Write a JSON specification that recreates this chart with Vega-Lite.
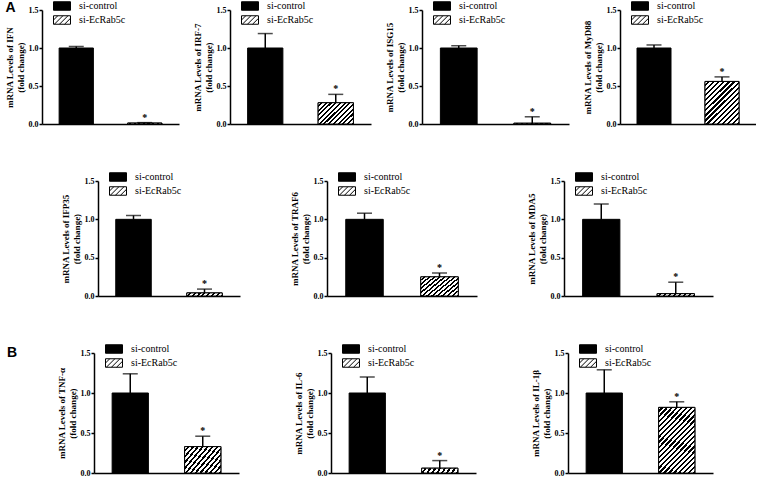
{
"$schema":"https://vega.github.io/schema/vega-lite/v6.json",
"padding":{"left":5,"top":1,"right":0,"bottom":0},
"datasets":{"d":[
{"gene":"IFN","group":"si-control","mean":1.0,"upper":1.02,"sig":""},
{"gene":"IFN","group":"si-EcRab5c","mean":0.012,"upper":0.018,"sig":"*"},
{"gene":"IRF-7","group":"si-control","mean":1.0,"upper":1.19,"sig":""},
{"gene":"IRF-7","group":"si-EcRab5c","mean":0.28,"upper":0.39,"sig":"*"},
{"gene":"ISG15","group":"si-control","mean":1.0,"upper":1.03,"sig":""},
{"gene":"ISG15","group":"si-EcRab5c","mean":0.01,"upper":0.095,"sig":"*"},
{"gene":"MyD88","group":"si-control","mean":1.0,"upper":1.04,"sig":""},
{"gene":"MyD88","group":"si-EcRab5c","mean":0.56,"upper":0.62,"sig":"*"},
{"gene":"IFP35","group":"si-control","mean":1.0,"upper":1.05,"sig":""},
{"gene":"IFP35","group":"si-EcRab5c","mean":0.04,"upper":0.09,"sig":"*"},
{"gene":"TRAF6","group":"si-control","mean":1.0,"upper":1.08,"sig":""},
{"gene":"TRAF6","group":"si-EcRab5c","mean":0.25,"upper":0.30,"sig":"*"},
{"gene":"MDA5","group":"si-control","mean":1.0,"upper":1.20,"sig":""},
{"gene":"MDA5","group":"si-EcRab5c","mean":0.03,"upper":0.18,"sig":"*"},
{"gene":"TNF-α","group":"si-control","mean":1.0,"upper":1.24,"sig":""},
{"gene":"TNF-α","group":"si-EcRab5c","mean":0.33,"upper":0.46,"sig":"*"},
{"gene":"IL-6","group":"si-control","mean":1.0,"upper":1.2,"sig":""},
{"gene":"IL-6","group":"si-EcRab5c","mean":0.06,"upper":0.155,"sig":"*"},
{"gene":"IL-1β","group":"si-control","mean":1.0,"upper":1.29,"sig":""},
{"gene":"IL-1β","group":"si-EcRab5c","mean":0.82,"upper":0.89,"sig":"*"}
]},
"data":{"name":"d"},
"spacing":44,
"resolve":{"scale":{"fill":"independent"},"legend":{"fill":"independent"}},
"vconcat":[
{"title":{"text":"A","anchor":"start","font":"Liberation Sans","fontSize":14,"fontWeight":"bold","color":"#000","offset":-14},
"spacing":14,
"resolve":{"scale":{"fill":"independent"},"legend":{"fill":"independent"}},
"hconcat":[
{"width":137,"height":114,"transform":[{"filter":"datum.gene==='IFN'"}],
"encoding":{"x":{"field":"group","type":"nominal","sort":["si-control","si-EcRab5c"],"scale":{"paddingInner":0.5,"paddingOuter":0.25},"axis":{"title":null,"labels":false,"ticks":false}},
"y":{"field":"mean","type":"quantitative","scale":{"domain":[0,1.5],"nice":false},"axis":{"values":[0,0.5,1,1.5],"format":".1f","title":["mRNA Levels of IFN","(fold change)"]}}},
"layer":[
{"mark":{"type":"bar","stroke":"#000","strokeWidth":1},"encoding":{"fill":{"field":"group","type":"nominal","scale":{"domain":["si-control","si-EcRab5c"],"range":["#000","#fff"]},"legend":{"title":null,"symbolType":"M-2,-1H2V1H-2Z","encode":{"symbols":{"update":{"shape":[{"test":"datum.value==='si-EcRab5c'","value":"M-2,-1H2V1H-2Z M-2,0L-1,-1 M-1.8,1L0.2,-1 M-0.6,1L1.4,-1 M0.6,1L2,-0.4"},{"value":"M-2,-1H2V1H-2Z"}]}}}}}}},
{"transform":[{"filter":"datum.group==='si-EcRab5c'"}],"mark":{"type":"bar","stroke":"#000","strokeWidth":1,"fill":{"gradient":"linear","x1":0,"y1":0,"x2":1.076,"y2":0.09,"stops":[{"offset":0,"color":"#fff"},{"offset":0.069,"color":"#fff"},{"offset":0.069,"color":"#000"},{"offset":0.125,"color":"#000"},{"offset":0.125,"color":"#fff"},{"offset":0.194,"color":"#fff"},{"offset":0.194,"color":"#000"},{"offset":0.25,"color":"#000"},{"offset":0.25,"color":"#fff"},{"offset":0.319,"color":"#fff"},{"offset":0.319,"color":"#000"},{"offset":0.375,"color":"#000"},{"offset":0.375,"color":"#fff"},{"offset":0.444,"color":"#fff"},{"offset":0.444,"color":"#000"},{"offset":0.5,"color":"#000"},{"offset":0.5,"color":"#fff"},{"offset":0.569,"color":"#fff"},{"offset":0.569,"color":"#000"},{"offset":0.625,"color":"#000"},{"offset":0.625,"color":"#fff"},{"offset":0.694,"color":"#fff"},{"offset":0.694,"color":"#000"},{"offset":0.75,"color":"#000"},{"offset":0.75,"color":"#fff"},{"offset":0.819,"color":"#fff"},{"offset":0.819,"color":"#000"},{"offset":0.875,"color":"#000"},{"offset":0.875,"color":"#fff"},{"offset":0.944,"color":"#fff"},{"offset":0.944,"color":"#000"},{"offset":1,"color":"#000"}]}}},
{"mark":{"type":"rule","color":"#000","strokeWidth":1.5},"encoding":{"y2":{"field":"upper"}}},
{"mark":{"type":"tick","color":"#000","size":15,"thickness":1.5},"encoding":{"y":{"field":"upper","type":"quantitative"}}},
{"mark":{"type":"text","font":"Liberation Serif","fontSize":10,"fontWeight":"bold","baseline":"alphabetic","dy":-2,"color":"#000"},"encoding":{"y":{"field":"upper","type":"quantitative"},"text":{"field":"sig"}}}
]},
{"width":141,"height":114,"transform":[{"filter":"datum.gene==='IRF-7'"}],
"encoding":{"x":{"field":"group","type":"nominal","sort":["si-control","si-EcRab5c"],"scale":{"paddingInner":0.5,"paddingOuter":0.25},"axis":{"title":null,"labels":false,"ticks":false}},
"y":{"field":"mean","type":"quantitative","scale":{"domain":[0,1.5],"nice":false},"axis":{"values":[0,0.5,1,1.5],"format":".1f","title":["mRNA Levels of IRF-7","(fold change)"]}}},
"layer":[
{"mark":{"type":"bar","stroke":"#000","strokeWidth":1},"encoding":{"fill":{"field":"group","type":"nominal","scale":{"domain":["si-control","si-EcRab5c"],"range":["#000","#fff"]},"legend":{"title":null,"symbolType":"M-2,-1H2V1H-2Z","encode":{"symbols":{"update":{"shape":[{"test":"datum.value==='si-EcRab5c'","value":"M-2,-1H2V1H-2Z M-2,0L-1,-1 M-1.8,1L0.2,-1 M-0.6,1L1.4,-1 M0.6,1L2,-0.4"},{"value":"M-2,-1H2V1H-2Z"}]}}}}}}},
{"transform":[{"filter":"datum.group==='si-EcRab5c'"}],"mark":{"type":"bar","stroke":"#000","strokeWidth":1,"fill":{"gradient":"linear","x1":0,"y1":0,"x2":1.173,"y2":0.717,"stops":[{"offset":0,"color":"#fff"},{"offset":0.0458,"color":"#fff"},{"offset":0.0458,"color":"#000"},{"offset":0.0833,"color":"#000"},{"offset":0.0833,"color":"#fff"},{"offset":0.1292,"color":"#fff"},{"offset":0.1292,"color":"#000"},{"offset":0.1667,"color":"#000"},{"offset":0.1667,"color":"#fff"},{"offset":0.2125,"color":"#fff"},{"offset":0.2125,"color":"#000"},{"offset":0.25,"color":"#000"},{"offset":0.25,"color":"#fff"},{"offset":0.2958,"color":"#fff"},{"offset":0.2958,"color":"#000"},{"offset":0.3333,"color":"#000"},{"offset":0.3333,"color":"#fff"},{"offset":0.3792,"color":"#fff"},{"offset":0.3792,"color":"#000"},{"offset":0.4167,"color":"#000"},{"offset":0.4167,"color":"#fff"},{"offset":0.4625,"color":"#fff"},{"offset":0.4625,"color":"#000"},{"offset":0.5,"color":"#000"},{"offset":0.5,"color":"#fff"},{"offset":0.5458,"color":"#fff"},{"offset":0.5458,"color":"#000"},{"offset":0.5833,"color":"#000"},{"offset":0.5833,"color":"#fff"},{"offset":0.6292,"color":"#fff"},{"offset":0.6292,"color":"#000"},{"offset":0.6667,"color":"#000"},{"offset":0.6667,"color":"#fff"},{"offset":0.7125,"color":"#fff"},{"offset":0.7125,"color":"#000"},{"offset":0.75,"color":"#000"},{"offset":0.75,"color":"#fff"},{"offset":0.7958,"color":"#fff"},{"offset":0.7958,"color":"#000"},{"offset":0.8333,"color":"#000"},{"offset":0.8333,"color":"#fff"},{"offset":0.8792,"color":"#fff"},{"offset":0.8792,"color":"#000"},{"offset":0.9167,"color":"#000"},{"offset":0.9167,"color":"#fff"},{"offset":0.9625,"color":"#fff"},{"offset":0.9625,"color":"#000"},{"offset":1,"color":"#000"}]}}},
{"mark":{"type":"rule","color":"#000","strokeWidth":1.5},"encoding":{"y2":{"field":"upper"}}},
{"mark":{"type":"tick","color":"#000","size":15,"thickness":1.5},"encoding":{"y":{"field":"upper","type":"quantitative"}}},
{"mark":{"type":"text","font":"Liberation Serif","fontSize":10,"fontWeight":"bold","baseline":"alphabetic","dy":-2,"color":"#000"},"encoding":{"y":{"field":"upper","type":"quantitative"},"text":{"field":"sig"}}}
]},
{"width":147,"height":114,"transform":[{"filter":"datum.gene==='ISG15'"}],
"encoding":{"x":{"field":"group","type":"nominal","sort":["si-control","si-EcRab5c"],"scale":{"paddingInner":0.5,"paddingOuter":0.25},"axis":{"title":null,"labels":false,"ticks":false}},
"y":{"field":"mean","type":"quantitative","scale":{"domain":[0,1.5],"nice":false},"axis":{"values":[0,0.5,1,1.5],"format":".1f","title":["mRNA Levels of ISG15","(fold change)"]}}},
"layer":[
{"mark":{"type":"bar","stroke":"#000","strokeWidth":1},"encoding":{"fill":{"field":"group","type":"nominal","scale":{"domain":["si-control","si-EcRab5c"],"range":["#000","#fff"]},"legend":{"title":null,"symbolType":"M-2,-1H2V1H-2Z","encode":{"symbols":{"update":{"shape":[{"test":"datum.value==='si-EcRab5c'","value":"M-2,-1H2V1H-2Z M-2,0L-1,-1 M-1.8,1L0.2,-1 M-0.6,1L1.4,-1 M0.6,1L2,-0.4"},{"value":"M-2,-1H2V1H-2Z"}]}}}}}}},
{"transform":[{"filter":"datum.group==='si-EcRab5c'"}],"mark":{"type":"bar","stroke":"#000","strokeWidth":1,"fill":{"gradient":"linear","x1":0,"y1":0,"x2":1.076,"y2":0.09,"stops":[{"offset":0,"color":"#fff"},{"offset":0.069,"color":"#fff"},{"offset":0.069,"color":"#000"},{"offset":0.125,"color":"#000"},{"offset":0.125,"color":"#fff"},{"offset":0.194,"color":"#fff"},{"offset":0.194,"color":"#000"},{"offset":0.25,"color":"#000"},{"offset":0.25,"color":"#fff"},{"offset":0.319,"color":"#fff"},{"offset":0.319,"color":"#000"},{"offset":0.375,"color":"#000"},{"offset":0.375,"color":"#fff"},{"offset":0.444,"color":"#fff"},{"offset":0.444,"color":"#000"},{"offset":0.5,"color":"#000"},{"offset":0.5,"color":"#fff"},{"offset":0.569,"color":"#fff"},{"offset":0.569,"color":"#000"},{"offset":0.625,"color":"#000"},{"offset":0.625,"color":"#fff"},{"offset":0.694,"color":"#fff"},{"offset":0.694,"color":"#000"},{"offset":0.75,"color":"#000"},{"offset":0.75,"color":"#fff"},{"offset":0.819,"color":"#fff"},{"offset":0.819,"color":"#000"},{"offset":0.875,"color":"#000"},{"offset":0.875,"color":"#fff"},{"offset":0.944,"color":"#fff"},{"offset":0.944,"color":"#000"},{"offset":1,"color":"#000"}]}}},
{"mark":{"type":"rule","color":"#000","strokeWidth":1.5},"encoding":{"y2":{"field":"upper"}}},
{"mark":{"type":"tick","color":"#000","size":15,"thickness":1.5},"encoding":{"y":{"field":"upper","type":"quantitative"}}},
{"mark":{"type":"text","font":"Liberation Serif","fontSize":10,"fontWeight":"bold","baseline":"alphabetic","dy":-2,"color":"#000"},"encoding":{"y":{"field":"upper","type":"quantitative"},"text":{"field":"sig"}}}
]},
{"width":136,"height":114,"transform":[{"filter":"datum.gene==='MyD88'"}],
"encoding":{"x":{"field":"group","type":"nominal","sort":["si-control","si-EcRab5c"],"scale":{"paddingInner":0.5,"paddingOuter":0.25},"axis":{"title":null,"labels":false,"ticks":false}},
"y":{"field":"mean","type":"quantitative","scale":{"domain":[0,1.5],"nice":false},"axis":{"values":[0,0.5,1,1.5],"format":".1f","title":["mRNA Levels of MyD88","(fold change)"]}}},
"layer":[
{"mark":{"type":"bar","stroke":"#000","strokeWidth":1},"encoding":{"fill":{"field":"group","type":"nominal","scale":{"domain":["si-control","si-EcRab5c"],"range":["#000","#fff"]},"legend":{"title":null,"symbolType":"M-2,-1H2V1H-2Z","encode":{"symbols":{"update":{"shape":[{"test":"datum.value==='si-EcRab5c'","value":"M-2,-1H2V1H-2Z M-2,0L-1,-1 M-1.8,1L0.2,-1 M-0.6,1L1.4,-1 M0.6,1L2,-0.4"},{"value":"M-2,-1H2V1H-2Z"}]}}}}}}},
{"transform":[{"filter":"datum.group==='si-EcRab5c'"}],"mark":{"type":"bar","stroke":"#000","strokeWidth":1,"fill":{"gradient":"linear","x1":0,"y1":0,"x2":0.871,"y2":1.102,"stops":[{"offset":0,"color":"#fff"},{"offset":0.0367,"color":"#fff"},{"offset":0.0367,"color":"#000"},{"offset":0.0667,"color":"#000"},{"offset":0.0667,"color":"#fff"},{"offset":0.1033,"color":"#fff"},{"offset":0.1033,"color":"#000"},{"offset":0.1333,"color":"#000"},{"offset":0.1333,"color":"#fff"},{"offset":0.17,"color":"#fff"},{"offset":0.17,"color":"#000"},{"offset":0.2,"color":"#000"},{"offset":0.2,"color":"#fff"},{"offset":0.2367,"color":"#fff"},{"offset":0.2367,"color":"#000"},{"offset":0.2667,"color":"#000"},{"offset":0.2667,"color":"#fff"},{"offset":0.3033,"color":"#fff"},{"offset":0.3033,"color":"#000"},{"offset":0.3333,"color":"#000"},{"offset":0.3333,"color":"#fff"},{"offset":0.37,"color":"#fff"},{"offset":0.37,"color":"#000"},{"offset":0.4,"color":"#000"},{"offset":0.4,"color":"#fff"},{"offset":0.4367,"color":"#fff"},{"offset":0.4367,"color":"#000"},{"offset":0.4667,"color":"#000"},{"offset":0.4667,"color":"#fff"},{"offset":0.5033,"color":"#fff"},{"offset":0.5033,"color":"#000"},{"offset":0.5333,"color":"#000"},{"offset":0.5333,"color":"#fff"},{"offset":0.57,"color":"#fff"},{"offset":0.57,"color":"#000"},{"offset":0.6,"color":"#000"},{"offset":0.6,"color":"#fff"},{"offset":0.6367,"color":"#fff"},{"offset":0.6367,"color":"#000"},{"offset":0.6667,"color":"#000"},{"offset":0.6667,"color":"#fff"},{"offset":0.7033,"color":"#fff"},{"offset":0.7033,"color":"#000"},{"offset":0.7333,"color":"#000"},{"offset":0.7333,"color":"#fff"},{"offset":0.77,"color":"#fff"},{"offset":0.77,"color":"#000"},{"offset":0.8,"color":"#000"},{"offset":0.8,"color":"#fff"},{"offset":0.8367,"color":"#fff"},{"offset":0.8367,"color":"#000"},{"offset":0.8667,"color":"#000"},{"offset":0.8667,"color":"#fff"},{"offset":0.9033,"color":"#fff"},{"offset":0.9033,"color":"#000"},{"offset":0.9333,"color":"#000"},{"offset":0.9333,"color":"#fff"},{"offset":0.97,"color":"#fff"},{"offset":0.97,"color":"#000"},{"offset":1,"color":"#000"}]}}},
{"mark":{"type":"rule","color":"#000","strokeWidth":1.5},"encoding":{"y2":{"field":"upper"}}},
{"mark":{"type":"tick","color":"#000","size":15,"thickness":1.5},"encoding":{"y":{"field":"upper","type":"quantitative"}}},
{"mark":{"type":"text","font":"Liberation Serif","fontSize":10,"fontWeight":"bold","baseline":"alphabetic","dy":-2,"color":"#000"},"encoding":{"y":{"field":"upper","type":"quantitative"},"text":{"field":"sig"}}}
]}
]},
{"spacing":0,
"resolve":{"scale":{"fill":"independent"},"legend":{"fill":"independent"}},
"hconcat":[
{"width":19,"height":1,"transform":[{"filter":"false"}],"mark":"point"},
{"spacing":50,
"resolve":{"scale":{"fill":"independent"},"legend":{"fill":"independent"}},
"hconcat":[
{"width":142,"height":115,"transform":[{"filter":"datum.gene==='IFP35'"}],
"encoding":{"x":{"field":"group","type":"nominal","sort":["si-control","si-EcRab5c"],"scale":{"paddingInner":0.5,"paddingOuter":0.25},"axis":{"title":null,"labels":false,"ticks":false}},
"y":{"field":"mean","type":"quantitative","scale":{"domain":[0,1.5],"nice":false},"axis":{"values":[0,0.5,1,1.5],"format":".1f","title":["mRNA Levels of IFP35","(fold change)"]}}},
"layer":[
{"mark":{"type":"bar","stroke":"#000","strokeWidth":1},"encoding":{"fill":{"field":"group","type":"nominal","scale":{"domain":["si-control","si-EcRab5c"],"range":["#000","#fff"]},"legend":{"title":null,"symbolType":"M-2,-1H2V1H-2Z","encode":{"symbols":{"update":{"shape":[{"test":"datum.value==='si-EcRab5c'","value":"M-2,-1H2V1H-2Z M-2,0L-1,-1 M-1.8,1L0.2,-1 M-0.6,1L1.4,-1 M0.6,1L2,-0.4"},{"value":"M-2,-1H2V1H-2Z"}]}}}}}}},
{"transform":[{"filter":"datum.group==='si-EcRab5c'"}],"mark":{"type":"bar","stroke":"#000","strokeWidth":1,"fill":{"gradient":"linear","x1":0,"y1":0,"x2":1.076,"y2":0.09,"stops":[{"offset":0,"color":"#fff"},{"offset":0.069,"color":"#fff"},{"offset":0.069,"color":"#000"},{"offset":0.125,"color":"#000"},{"offset":0.125,"color":"#fff"},{"offset":0.194,"color":"#fff"},{"offset":0.194,"color":"#000"},{"offset":0.25,"color":"#000"},{"offset":0.25,"color":"#fff"},{"offset":0.319,"color":"#fff"},{"offset":0.319,"color":"#000"},{"offset":0.375,"color":"#000"},{"offset":0.375,"color":"#fff"},{"offset":0.444,"color":"#fff"},{"offset":0.444,"color":"#000"},{"offset":0.5,"color":"#000"},{"offset":0.5,"color":"#fff"},{"offset":0.569,"color":"#fff"},{"offset":0.569,"color":"#000"},{"offset":0.625,"color":"#000"},{"offset":0.625,"color":"#fff"},{"offset":0.694,"color":"#fff"},{"offset":0.694,"color":"#000"},{"offset":0.75,"color":"#000"},{"offset":0.75,"color":"#fff"},{"offset":0.819,"color":"#fff"},{"offset":0.819,"color":"#000"},{"offset":0.875,"color":"#000"},{"offset":0.875,"color":"#fff"},{"offset":0.944,"color":"#fff"},{"offset":0.944,"color":"#000"},{"offset":1,"color":"#000"}]}}},
{"mark":{"type":"rule","color":"#000","strokeWidth":1.5},"encoding":{"y2":{"field":"upper"}}},
{"mark":{"type":"tick","color":"#000","size":15,"thickness":1.5},"encoding":{"y":{"field":"upper","type":"quantitative"}}},
{"mark":{"type":"text","font":"Liberation Serif","fontSize":10,"fontWeight":"bold","baseline":"alphabetic","dy":-2,"color":"#000"},"encoding":{"y":{"field":"upper","type":"quantitative"},"text":{"field":"sig"}}}
]},
{"width":150,"height":115,"transform":[{"filter":"datum.gene==='TRAF6'"}],
"encoding":{"x":{"field":"group","type":"nominal","sort":["si-control","si-EcRab5c"],"scale":{"paddingInner":0.5,"paddingOuter":0.25},"axis":{"title":null,"labels":false,"ticks":false}},
"y":{"field":"mean","type":"quantitative","scale":{"domain":[0,1.5],"nice":false},"axis":{"values":[0,0.5,1,1.5],"format":".1f","title":["mRNA Levels of TRAF6","(fold change)"]}}},
"layer":[
{"mark":{"type":"bar","stroke":"#000","strokeWidth":1},"encoding":{"fill":{"field":"group","type":"nominal","scale":{"domain":["si-control","si-EcRab5c"],"range":["#000","#fff"]},"legend":{"title":null,"symbolType":"M-2,-1H2V1H-2Z","encode":{"symbols":{"update":{"shape":[{"test":"datum.value==='si-EcRab5c'","value":"M-2,-1H2V1H-2Z M-2,0L-1,-1 M-1.8,1L0.2,-1 M-0.6,1L1.4,-1 M0.6,1L2,-0.4"},{"value":"M-2,-1H2V1H-2Z"}]}}}}}}},
{"transform":[{"filter":"datum.group==='si-EcRab5c'"}],"mark":{"type":"bar","stroke":"#000","strokeWidth":1,"fill":{"gradient":"linear","x1":0,"y1":0,"x2":1.173,"y2":0.717,"stops":[{"offset":0,"color":"#fff"},{"offset":0.0458,"color":"#fff"},{"offset":0.0458,"color":"#000"},{"offset":0.0833,"color":"#000"},{"offset":0.0833,"color":"#fff"},{"offset":0.1292,"color":"#fff"},{"offset":0.1292,"color":"#000"},{"offset":0.1667,"color":"#000"},{"offset":0.1667,"color":"#fff"},{"offset":0.2125,"color":"#fff"},{"offset":0.2125,"color":"#000"},{"offset":0.25,"color":"#000"},{"offset":0.25,"color":"#fff"},{"offset":0.2958,"color":"#fff"},{"offset":0.2958,"color":"#000"},{"offset":0.3333,"color":"#000"},{"offset":0.3333,"color":"#fff"},{"offset":0.3792,"color":"#fff"},{"offset":0.3792,"color":"#000"},{"offset":0.4167,"color":"#000"},{"offset":0.4167,"color":"#fff"},{"offset":0.4625,"color":"#fff"},{"offset":0.4625,"color":"#000"},{"offset":0.5,"color":"#000"},{"offset":0.5,"color":"#fff"},{"offset":0.5458,"color":"#fff"},{"offset":0.5458,"color":"#000"},{"offset":0.5833,"color":"#000"},{"offset":0.5833,"color":"#fff"},{"offset":0.6292,"color":"#fff"},{"offset":0.6292,"color":"#000"},{"offset":0.6667,"color":"#000"},{"offset":0.6667,"color":"#fff"},{"offset":0.7125,"color":"#fff"},{"offset":0.7125,"color":"#000"},{"offset":0.75,"color":"#000"},{"offset":0.75,"color":"#fff"},{"offset":0.7958,"color":"#fff"},{"offset":0.7958,"color":"#000"},{"offset":0.8333,"color":"#000"},{"offset":0.8333,"color":"#fff"},{"offset":0.8792,"color":"#fff"},{"offset":0.8792,"color":"#000"},{"offset":0.9167,"color":"#000"},{"offset":0.9167,"color":"#fff"},{"offset":0.9625,"color":"#fff"},{"offset":0.9625,"color":"#000"},{"offset":1,"color":"#000"}]}}},
{"mark":{"type":"rule","color":"#000","strokeWidth":1.5},"encoding":{"y2":{"field":"upper"}}},
{"mark":{"type":"tick","color":"#000","size":15,"thickness":1.5},"encoding":{"y":{"field":"upper","type":"quantitative"}}},
{"mark":{"type":"text","font":"Liberation Serif","fontSize":10,"fontWeight":"bold","baseline":"alphabetic","dy":-2,"color":"#000"},"encoding":{"y":{"field":"upper","type":"quantitative"},"text":{"field":"sig"}}}
]},
{"width":149,"height":115,"transform":[{"filter":"datum.gene==='MDA5'"}],
"encoding":{"x":{"field":"group","type":"nominal","sort":["si-control","si-EcRab5c"],"scale":{"paddingInner":0.5,"paddingOuter":0.25},"axis":{"title":null,"labels":false,"ticks":false}},
"y":{"field":"mean","type":"quantitative","scale":{"domain":[0,1.5],"nice":false},"axis":{"values":[0,0.5,1,1.5],"format":".1f","title":["mRNA Levels of MDA5","(fold change)"]}}},
"layer":[
{"mark":{"type":"bar","stroke":"#000","strokeWidth":1},"encoding":{"fill":{"field":"group","type":"nominal","scale":{"domain":["si-control","si-EcRab5c"],"range":["#000","#fff"]},"legend":{"title":null,"symbolType":"M-2,-1H2V1H-2Z","encode":{"symbols":{"update":{"shape":[{"test":"datum.value==='si-EcRab5c'","value":"M-2,-1H2V1H-2Z M-2,0L-1,-1 M-1.8,1L0.2,-1 M-0.6,1L1.4,-1 M0.6,1L2,-0.4"},{"value":"M-2,-1H2V1H-2Z"}]}}}}}}},
{"transform":[{"filter":"datum.group==='si-EcRab5c'"}],"mark":{"type":"bar","stroke":"#000","strokeWidth":1,"fill":{"gradient":"linear","x1":0,"y1":0,"x2":1.076,"y2":0.09,"stops":[{"offset":0,"color":"#fff"},{"offset":0.069,"color":"#fff"},{"offset":0.069,"color":"#000"},{"offset":0.125,"color":"#000"},{"offset":0.125,"color":"#fff"},{"offset":0.194,"color":"#fff"},{"offset":0.194,"color":"#000"},{"offset":0.25,"color":"#000"},{"offset":0.25,"color":"#fff"},{"offset":0.319,"color":"#fff"},{"offset":0.319,"color":"#000"},{"offset":0.375,"color":"#000"},{"offset":0.375,"color":"#fff"},{"offset":0.444,"color":"#fff"},{"offset":0.444,"color":"#000"},{"offset":0.5,"color":"#000"},{"offset":0.5,"color":"#fff"},{"offset":0.569,"color":"#fff"},{"offset":0.569,"color":"#000"},{"offset":0.625,"color":"#000"},{"offset":0.625,"color":"#fff"},{"offset":0.694,"color":"#fff"},{"offset":0.694,"color":"#000"},{"offset":0.75,"color":"#000"},{"offset":0.75,"color":"#fff"},{"offset":0.819,"color":"#fff"},{"offset":0.819,"color":"#000"},{"offset":0.875,"color":"#000"},{"offset":0.875,"color":"#fff"},{"offset":0.944,"color":"#fff"},{"offset":0.944,"color":"#000"},{"offset":1,"color":"#000"}]}}},
{"mark":{"type":"rule","color":"#000","strokeWidth":1.5},"encoding":{"y2":{"field":"upper"}}},
{"mark":{"type":"tick","color":"#000","size":15,"thickness":1.5},"encoding":{"y":{"field":"upper","type":"quantitative"}}},
{"mark":{"type":"text","font":"Liberation Serif","fontSize":10,"fontWeight":"bold","baseline":"alphabetic","dy":-2,"color":"#000"},"encoding":{"y":{"field":"upper","type":"quantitative"},"text":{"field":"sig"}}}
]}
]}
]},
{"title":{"text":"B","anchor":"start","dx":-35,"font":"Liberation Sans","fontSize":14,"fontWeight":"bold","color":"#000","offset":-16},
"spacing":0,
"resolve":{"scale":{"fill":"independent"},"legend":{"fill":"independent"}},
"hconcat":[
{"width":15,"height":1,"transform":[{"filter":"false"}],"mark":"point"},
{"spacing":55,
"resolve":{"scale":{"fill":"independent"},"legend":{"fill":"independent"}},
"hconcat":[
{"width":145,"height":120,"transform":[{"filter":"datum.gene==='TNF-α'"}],
"encoding":{"x":{"field":"group","type":"nominal","sort":["si-control","si-EcRab5c"],"scale":{"paddingInner":0.5,"paddingOuter":0.25},"axis":{"title":null,"labels":false,"ticks":false}},
"y":{"field":"mean","type":"quantitative","scale":{"domain":[0,1.5],"nice":false},"axis":{"values":[0,0.5,1,1.5],"format":".1f","title":["mRNA Levels of TNF-α","(fold change)"]}}},
"layer":[
{"mark":{"type":"bar","stroke":"#000","strokeWidth":1},"encoding":{"fill":{"field":"group","type":"nominal","scale":{"domain":["si-control","si-EcRab5c"],"range":["#000","#fff"]},"legend":{"title":null,"symbolType":"M-2,-1H2V1H-2Z","encode":{"symbols":{"update":{"shape":[{"test":"datum.value==='si-EcRab5c'","value":"M-2,-1H2V1H-2Z M-2,0L-1,-1 M-1.8,1L0.2,-1 M-0.6,1L1.4,-1 M0.6,1L2,-0.4"},{"value":"M-2,-1H2V1H-2Z"}]}}}}}}},
{"transform":[{"filter":"datum.group==='si-EcRab5c'"}],"mark":{"type":"bar","stroke":"#000","strokeWidth":1,"fill":{"gradient":"linear","x1":0,"y1":0,"x2":1.173,"y2":0.717,"stops":[{"offset":0,"color":"#fff"},{"offset":0.0458,"color":"#fff"},{"offset":0.0458,"color":"#000"},{"offset":0.0833,"color":"#000"},{"offset":0.0833,"color":"#fff"},{"offset":0.1292,"color":"#fff"},{"offset":0.1292,"color":"#000"},{"offset":0.1667,"color":"#000"},{"offset":0.1667,"color":"#fff"},{"offset":0.2125,"color":"#fff"},{"offset":0.2125,"color":"#000"},{"offset":0.25,"color":"#000"},{"offset":0.25,"color":"#fff"},{"offset":0.2958,"color":"#fff"},{"offset":0.2958,"color":"#000"},{"offset":0.3333,"color":"#000"},{"offset":0.3333,"color":"#fff"},{"offset":0.3792,"color":"#fff"},{"offset":0.3792,"color":"#000"},{"offset":0.4167,"color":"#000"},{"offset":0.4167,"color":"#fff"},{"offset":0.4625,"color":"#fff"},{"offset":0.4625,"color":"#000"},{"offset":0.5,"color":"#000"},{"offset":0.5,"color":"#fff"},{"offset":0.5458,"color":"#fff"},{"offset":0.5458,"color":"#000"},{"offset":0.5833,"color":"#000"},{"offset":0.5833,"color":"#fff"},{"offset":0.6292,"color":"#fff"},{"offset":0.6292,"color":"#000"},{"offset":0.6667,"color":"#000"},{"offset":0.6667,"color":"#fff"},{"offset":0.7125,"color":"#fff"},{"offset":0.7125,"color":"#000"},{"offset":0.75,"color":"#000"},{"offset":0.75,"color":"#fff"},{"offset":0.7958,"color":"#fff"},{"offset":0.7958,"color":"#000"},{"offset":0.8333,"color":"#000"},{"offset":0.8333,"color":"#fff"},{"offset":0.8792,"color":"#fff"},{"offset":0.8792,"color":"#000"},{"offset":0.9167,"color":"#000"},{"offset":0.9167,"color":"#fff"},{"offset":0.9625,"color":"#fff"},{"offset":0.9625,"color":"#000"},{"offset":1,"color":"#000"}]}}},
{"mark":{"type":"rule","color":"#000","strokeWidth":1.5},"encoding":{"y2":{"field":"upper"}}},
{"mark":{"type":"tick","color":"#000","size":15,"thickness":1.5},"encoding":{"y":{"field":"upper","type":"quantitative"}}},
{"mark":{"type":"text","font":"Liberation Serif","fontSize":10,"fontWeight":"bold","baseline":"alphabetic","dy":-2,"color":"#000"},"encoding":{"y":{"field":"upper","type":"quantitative"},"text":{"field":"sig"}}}
]},
{"width":145,"height":120,"transform":[{"filter":"datum.gene==='IL-6'"}],
"encoding":{"x":{"field":"group","type":"nominal","sort":["si-control","si-EcRab5c"],"scale":{"paddingInner":0.5,"paddingOuter":0.25},"axis":{"title":null,"labels":false,"ticks":false}},
"y":{"field":"mean","type":"quantitative","scale":{"domain":[0,1.5],"nice":false},"axis":{"values":[0,0.5,1,1.5],"format":".1f","title":["mRNA Levels of IL-6","(fold change)"]}}},
"layer":[
{"mark":{"type":"bar","stroke":"#000","strokeWidth":1},"encoding":{"fill":{"field":"group","type":"nominal","scale":{"domain":["si-control","si-EcRab5c"],"range":["#000","#fff"]},"legend":{"title":null,"symbolType":"M-2,-1H2V1H-2Z","encode":{"symbols":{"update":{"shape":[{"test":"datum.value==='si-EcRab5c'","value":"M-2,-1H2V1H-2Z M-2,0L-1,-1 M-1.8,1L0.2,-1 M-0.6,1L1.4,-1 M0.6,1L2,-0.4"},{"value":"M-2,-1H2V1H-2Z"}]}}}}}}},
{"transform":[{"filter":"datum.group==='si-EcRab5c'"}],"mark":{"type":"bar","stroke":"#000","strokeWidth":1,"fill":{"gradient":"linear","x1":0,"y1":0,"x2":1.076,"y2":0.09,"stops":[{"offset":0,"color":"#fff"},{"offset":0.069,"color":"#fff"},{"offset":0.069,"color":"#000"},{"offset":0.125,"color":"#000"},{"offset":0.125,"color":"#fff"},{"offset":0.194,"color":"#fff"},{"offset":0.194,"color":"#000"},{"offset":0.25,"color":"#000"},{"offset":0.25,"color":"#fff"},{"offset":0.319,"color":"#fff"},{"offset":0.319,"color":"#000"},{"offset":0.375,"color":"#000"},{"offset":0.375,"color":"#fff"},{"offset":0.444,"color":"#fff"},{"offset":0.444,"color":"#000"},{"offset":0.5,"color":"#000"},{"offset":0.5,"color":"#fff"},{"offset":0.569,"color":"#fff"},{"offset":0.569,"color":"#000"},{"offset":0.625,"color":"#000"},{"offset":0.625,"color":"#fff"},{"offset":0.694,"color":"#fff"},{"offset":0.694,"color":"#000"},{"offset":0.75,"color":"#000"},{"offset":0.75,"color":"#fff"},{"offset":0.819,"color":"#fff"},{"offset":0.819,"color":"#000"},{"offset":0.875,"color":"#000"},{"offset":0.875,"color":"#fff"},{"offset":0.944,"color":"#fff"},{"offset":0.944,"color":"#000"},{"offset":1,"color":"#000"}]}}},
{"mark":{"type":"rule","color":"#000","strokeWidth":1.5},"encoding":{"y2":{"field":"upper"}}},
{"mark":{"type":"tick","color":"#000","size":15,"thickness":1.5},"encoding":{"y":{"field":"upper","type":"quantitative"}}},
{"mark":{"type":"text","font":"Liberation Serif","fontSize":10,"fontWeight":"bold","baseline":"alphabetic","dy":-2,"color":"#000"},"encoding":{"y":{"field":"upper","type":"quantitative"},"text":{"field":"sig"}}}
]},
{"width":145,"height":120,"transform":[{"filter":"datum.gene==='IL-1β'"}],
"encoding":{"x":{"field":"group","type":"nominal","sort":["si-control","si-EcRab5c"],"scale":{"paddingInner":0.5,"paddingOuter":0.25},"axis":{"title":null,"labels":false,"ticks":false}},
"y":{"field":"mean","type":"quantitative","scale":{"domain":[0,1.5],"nice":false},"axis":{"values":[0,0.5,1,1.5],"format":".1f","title":["mRNA Levels of IL-1β","(fold change)"]}}},
"layer":[
{"mark":{"type":"bar","stroke":"#000","strokeWidth":1},"encoding":{"fill":{"field":"group","type":"nominal","scale":{"domain":["si-control","si-EcRab5c"],"range":["#000","#fff"]},"legend":{"title":null,"symbolType":"M-2,-1H2V1H-2Z","encode":{"symbols":{"update":{"shape":[{"test":"datum.value==='si-EcRab5c'","value":"M-2,-1H2V1H-2Z M-2,0L-1,-1 M-1.8,1L0.2,-1 M-0.6,1L1.4,-1 M0.6,1L2,-0.4"},{"value":"M-2,-1H2V1H-2Z"}]}}}}}}},
{"transform":[{"filter":"datum.group==='si-EcRab5c'"}],"mark":{"type":"bar","stroke":"#000","strokeWidth":1,"fill":{"gradient":"linear","x1":0,"y1":0,"x2":0.684,"y2":1.183,"stops":[{"offset":0,"color":"#fff"},{"offset":0.0275,"color":"#fff"},{"offset":0.0275,"color":"#000"},{"offset":0.05,"color":"#000"},{"offset":0.05,"color":"#fff"},{"offset":0.0775,"color":"#fff"},{"offset":0.0775,"color":"#000"},{"offset":0.1,"color":"#000"},{"offset":0.1,"color":"#fff"},{"offset":0.1275,"color":"#fff"},{"offset":0.1275,"color":"#000"},{"offset":0.15,"color":"#000"},{"offset":0.15,"color":"#fff"},{"offset":0.1775,"color":"#fff"},{"offset":0.1775,"color":"#000"},{"offset":0.2,"color":"#000"},{"offset":0.2,"color":"#fff"},{"offset":0.2275,"color":"#fff"},{"offset":0.2275,"color":"#000"},{"offset":0.25,"color":"#000"},{"offset":0.25,"color":"#fff"},{"offset":0.2775,"color":"#fff"},{"offset":0.2775,"color":"#000"},{"offset":0.3,"color":"#000"},{"offset":0.3,"color":"#fff"},{"offset":0.3275,"color":"#fff"},{"offset":0.3275,"color":"#000"},{"offset":0.35,"color":"#000"},{"offset":0.35,"color":"#fff"},{"offset":0.3775,"color":"#fff"},{"offset":0.3775,"color":"#000"},{"offset":0.4,"color":"#000"},{"offset":0.4,"color":"#fff"},{"offset":0.4275,"color":"#fff"},{"offset":0.4275,"color":"#000"},{"offset":0.45,"color":"#000"},{"offset":0.45,"color":"#fff"},{"offset":0.4775,"color":"#fff"},{"offset":0.4775,"color":"#000"},{"offset":0.5,"color":"#000"},{"offset":0.5,"color":"#fff"},{"offset":0.5275,"color":"#fff"},{"offset":0.5275,"color":"#000"},{"offset":0.55,"color":"#000"},{"offset":0.55,"color":"#fff"},{"offset":0.5775,"color":"#fff"},{"offset":0.5775,"color":"#000"},{"offset":0.6,"color":"#000"},{"offset":0.6,"color":"#fff"},{"offset":0.6275,"color":"#fff"},{"offset":0.6275,"color":"#000"},{"offset":0.65,"color":"#000"},{"offset":0.65,"color":"#fff"},{"offset":0.6775,"color":"#fff"},{"offset":0.6775,"color":"#000"},{"offset":0.7,"color":"#000"},{"offset":0.7,"color":"#fff"},{"offset":0.7275,"color":"#fff"},{"offset":0.7275,"color":"#000"},{"offset":0.75,"color":"#000"},{"offset":0.75,"color":"#fff"},{"offset":0.7775,"color":"#fff"},{"offset":0.7775,"color":"#000"},{"offset":0.8,"color":"#000"},{"offset":0.8,"color":"#fff"},{"offset":0.8275,"color":"#fff"},{"offset":0.8275,"color":"#000"},{"offset":0.85,"color":"#000"},{"offset":0.85,"color":"#fff"},{"offset":0.8775,"color":"#fff"},{"offset":0.8775,"color":"#000"},{"offset":0.9,"color":"#000"},{"offset":0.9,"color":"#fff"},{"offset":0.9275,"color":"#fff"},{"offset":0.9275,"color":"#000"},{"offset":0.95,"color":"#000"},{"offset":0.95,"color":"#fff"},{"offset":0.9775,"color":"#fff"},{"offset":0.9775,"color":"#000"},{"offset":1,"color":"#000"}]}}},
{"mark":{"type":"rule","color":"#000","strokeWidth":1.5},"encoding":{"y2":{"field":"upper"}}},
{"mark":{"type":"tick","color":"#000","size":15,"thickness":1.5},"encoding":{"y":{"field":"upper","type":"quantitative"}}},
{"mark":{"type":"text","font":"Liberation Serif","fontSize":10,"fontWeight":"bold","baseline":"alphabetic","dy":-2,"color":"#000"},"encoding":{"y":{"field":"upper","type":"quantitative"},"text":{"field":"sig"}}}
]}
]}
]}
],
"config":{
"view":{"stroke":null},
"font":"Liberation Serif",
"axis":{"domainColor":"#000","domainWidth":1.5,"tickColor":"#000","tickWidth":1.5,"tickSize":3,"labelFont":"Liberation Serif","labelFontWeight":"bold","labelFontSize":8,"labelColor":"#000","labelPadding":1,"titleFont":"Liberation Serif","titleFontWeight":"bold","titleFontSize":9,"titleColor":"#000","titlePadding":3,"titleLineHeight":10.5,"grid":false},
"legend":{"orient":"none","legendX":15,"legendY":-9,"symbolSize":72,"symbolStrokeColor":"#000","symbolStrokeWidth":1,"labelFont":"Liberation Serif","labelFontSize":10,"labelColor":"#000","labelOffset":12,"rowPadding":0,"padding":0}
}
}
